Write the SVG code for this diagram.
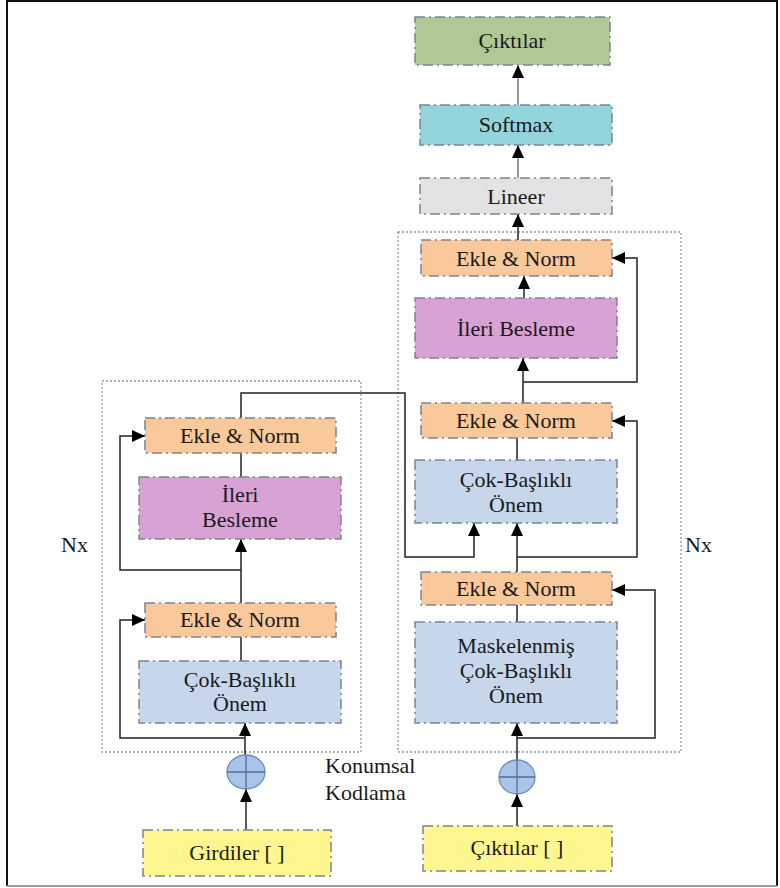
<svg xmlns="http://www.w3.org/2000/svg" width="780" height="888" viewBox="0 0 780 888" font-family="Liberation Serif, DejaVu Serif, serif">
<style>
.box{stroke:#7a8592;stroke-width:1.5;stroke-dasharray:10 4 2 4;}
.c{fill:none;stroke:#222;stroke-width:1.5;}
.grp{fill:none;stroke:#8a9bb0;stroke-width:1.3;stroke-dasharray:2 2;}
.green{fill:#afc996;}
.cyan{fill:#93d5da;}
.gray{fill:#e3e3e3;}
.orange{fill:#f9c89b;}
.pink{fill:#d9a2d5;}
.blue{fill:#c6d7ec;}
.yellow{fill:#fff68f;}
</style>
<defs>
<marker id="ah" markerUnits="userSpaceOnUse" markerWidth="14" markerHeight="12" refX="13" refY="6" orient="auto">
<path d="M0,0 L13,6 L0,12 z" fill="#000"/>
</marker>
</defs>
<rect width="780" height="888" fill="#fff"/>
<g id="frame">
<path d="M7,886 L7,1 L777,1 L777,886" fill="none" stroke="#111" stroke-width="2"/>
<line x1="7" y1="886" x2="777" y2="886" stroke="#9a9a9a" stroke-width="2"/>
</g>
<g id="groups">
<rect class="grp" x="102" y="381" width="259" height="371"/>
<rect class="grp" x="398" y="232" width="283" height="520"/>
</g>
<g id="connectors">
<line x1="518" y1="105" x2="518" y2="65" fill="none" stroke="#777" stroke-width="1.5" marker-end="url(#ah)"/>
<line x1="518" y1="178" x2="518" y2="145" fill="none" stroke="#777" stroke-width="1.5" marker-end="url(#ah)"/>
<line class="c" x1="518" y1="240" x2="518" y2="214" marker-end="url(#ah)"/>
<line class="c" x1="524" y1="298" x2="524" y2="276" marker-end="url(#ah)"/>
<line class="c" x1="523" y1="403" x2="523" y2="358" marker-end="url(#ah)"/>
<path class="c" d="M523,382 L637,382 L637,258 L612,258" marker-end="url(#ah)"/>
<line class="c" x1="517" y1="460" x2="517" y2="438"/>
<line class="c" x1="517" y1="572" x2="517" y2="523" marker-end="url(#ah)"/>
<path class="c" d="M517,557 L637,557 L637,421 L612,421" marker-end="url(#ah)"/>
<path class="c" d="M241,418 L241,393 L405,393 L405,557 L474,557 L474,523" marker-end="url(#ah)"/>
<line class="c" x1="517" y1="622" x2="517" y2="605"/>
<line class="c" x1="517" y1="760" x2="517" y2="723" marker-end="url(#ah)"/>
<path class="c" d="M517,738 L655,738 L655,590 L612,590" marker-end="url(#ah)"/>
<line class="c" x1="517" y1="826" x2="517" y2="794" marker-end="url(#ah)"/>
<line class="c" x1="241" y1="477" x2="241" y2="453"/>
<line class="c" x1="241" y1="603" x2="241" y2="539" marker-end="url(#ah)"/>
<path class="c" d="M241,570 L120,570 L120,436 L145,436" marker-end="url(#ah)"/>
<line class="c" x1="241" y1="661" x2="241" y2="637"/>
<line class="c" x1="245" y1="755" x2="245" y2="723" marker-end="url(#ah)"/>
<path class="c" d="M245,738 L120,738 L120,620 L145,620" marker-end="url(#ah)"/>
<line class="c" x1="246" y1="830" x2="246" y2="789" marker-end="url(#ah)"/>
</g>
<g id="nodes" font-family="Liberation Serif, DejaVu Serif, serif" font-size="22" fill="#1a1a1a" text-anchor="middle">
<g id="out_ciktilar"><rect class="box green" x="415" y="17" width="195" height="48"/><text x="512" y="48">Çıktılar</text></g>
<g id="softmax"><rect class="box cyan" x="420" y="105" width="192" height="40"/><text x="516" y="132">Softmax</text></g>
<g id="lineer"><rect class="box gray" x="420" y="178" width="192" height="36"/><text x="516" y="204">Lineer</text></g>
<g id="dec_addnorm3"><rect class="box orange" x="421" y="240" width="191" height="36"/><text x="516" y="266">Ekle &amp; Norm</text></g>
<g id="dec_ff"><rect class="box pink" x="415" y="298" width="202" height="60"/><text x="516" y="336">İleri Besleme</text></g>
<g id="dec_addnorm2"><rect class="box orange" x="421" y="403" width="191" height="35"/><text x="516" y="428">Ekle &amp; Norm</text></g>
<g id="dec_mha"><rect class="box blue" x="415" y="460" width="202" height="63"/><text x="516" y="487">Çok-Başlıklı</text><text x="516" y="512">Önem</text></g>
<g id="dec_addnorm1"><rect class="box orange" x="421" y="572" width="191" height="33"/><text x="516" y="596">Ekle &amp; Norm</text></g>
<g id="dec_masked"><rect class="box blue" x="415" y="622" width="202" height="101"/><text x="516" y="653">Maskelenmiş</text><text x="516" y="678">Çok-Başlıklı</text><text x="516" y="703">Önem</text></g>
<g id="dec_pe"><ellipse cx="517" cy="777" rx="18" ry="17" fill="#a9c4e6" stroke="#6f8fbd" stroke-width="1.3"/><line x1="499" y1="777" x2="535" y2="777" stroke="#4f6f9f" stroke-width="1.3"/><line x1="517" y1="760" x2="517" y2="794" stroke="#4f6f9f" stroke-width="1.3"/></g>
<g id="in_ciktilar"><rect class="box yellow" x="423" y="826" width="189" height="45"/><text x="517" y="855">Çıktılar [ ]</text></g>
<g id="enc_addnorm2"><rect class="box orange" x="145" y="418" width="191" height="35"/><text x="240" y="443">Ekle &amp; Norm</text></g>
<g id="enc_ff"><rect class="box pink" x="139" y="477" width="202" height="62"/><text x="240" y="502">İleri</text><text x="240" y="527">Besleme</text></g>
<g id="enc_addnorm1"><rect class="box orange" x="145" y="603" width="191" height="34"/><text x="240" y="627">Ekle &amp; Norm</text></g>
<g id="enc_mha"><rect class="box blue" x="139" y="661" width="202" height="62"/><text x="240" y="687">Çok-Başlıklı</text><text x="240" y="711">Önem</text></g>
<g id="enc_pe"><ellipse cx="246" cy="772" rx="19" ry="17" fill="#a9c4e6" stroke="#6f8fbd" stroke-width="1.3"/><line x1="227" y1="772" x2="265" y2="772" stroke="#4f6f9f" stroke-width="1.3"/><line x1="246" y1="755" x2="246" y2="789" stroke="#4f6f9f" stroke-width="1.3"/></g>
<g id="in_girdiler"><rect class="box yellow" x="143" y="830" width="188" height="46"/><text x="237" y="860">Girdiler [ ]</text></g>
</g>
<g id="labels" font-family="Liberation Serif, DejaVu Serif, serif" font-size="22" fill="#1a1a1a">
<text x="325" y="773">Konumsal</text>
<text x="325" y="800">Kodlama</text>
<text x="61" y="552">Nx</text>
<text x="685" y="552">Nx</text>
</g>
</svg>
